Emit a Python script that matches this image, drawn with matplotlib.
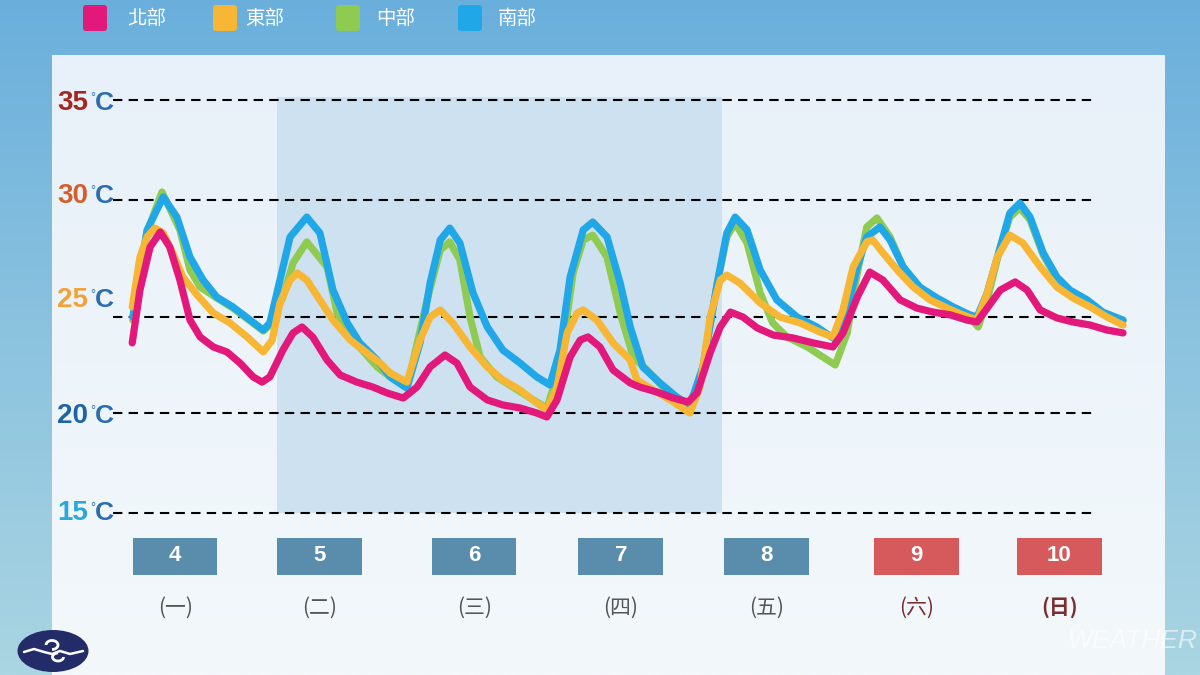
import numpy as np
import matplotlib
matplotlib.use('Agg')
import matplotlib.pyplot as plt
import matplotlib.transforms as mtransforms
from matplotlib.patches import Rectangle, FancyBboxPatch, Ellipse, Arc
from matplotlib.colors import LinearSegmentedColormap

plt.rcParams['font.family'] = ['Noto Sans CJK TC', 'DejaVu Sans']

# ---- data: temperature curves (x = hours, y = degC) ----
north_h = [8.2, 9.5, 11.2, 12.9, 14.5, 16.2, 17.9, 19.6, 21.8, 24.1, 26.3, 28.5, 30.0, 31.3,
           33.5, 35.2, 36.7, 38.5, 40.9, 43.1, 45.9, 48.6, 51.0, 53.7, 56.0, 58.2, 60.7, 62.7,
           64.9, 67.8, 70.4, 73.3, 76.1, 77.8, 79.5, 81.7, 83.4, 84.7, 86.7, 88.9, 91.8, 93.4,
           96.3, 99.0, 101.5, 103.0, 105.2, 106.9, 108.6, 110.7, 113.1, 115.8, 119.1, 122.5,
           125.8, 127.5, 129.9, 132.0, 134.2, 137.1, 139.9, 142.6, 145.5, 148.3, 150.0, 151.7,
           153.9, 156.4, 158.4, 160.6, 163.4, 166.1, 169.0, 171.8, 174.5]
north_t = [23.65, 26.15, 27.99, 28.63, 27.99, 26.58, 24.84, 23.96, 23.44, 23.18, 22.60, 21.88,
           21.61, 21.88, 23.28, 24.17, 24.48, 23.96, 22.76, 21.98, 21.61, 21.35, 21.04, 20.78,
           21.35, 22.40, 23.02, 22.60, 21.35, 20.68, 20.42, 20.26, 20.00, 19.80, 20.68, 22.92,
           23.80, 23.96, 23.44, 22.24, 21.56, 21.35, 21.09, 20.78, 20.57, 21.04, 23.13, 24.48,
           25.21, 25.00, 24.43, 24.06, 23.91, 23.65, 23.44, 24.17, 25.85, 26.92, 26.58, 25.73,
           25.38, 25.21, 25.09, 24.84, 24.74, 25.38, 26.15, 26.50, 26.15, 25.30, 24.95, 24.74,
           24.58, 24.32, 24.17]

east_h = [8.2, 9.5, 10.7, 12.0, 13.4, 15.0, 16.7, 19.1, 21.8, 24.6, 27.5, 30.2, 31.7, 33.0,
          34.7, 35.9, 37.5, 39.7, 41.9, 44.8, 47.6, 49.8, 51.5, 54.3, 56.5, 58.2, 59.9, 62.0,
          64.9, 67.8, 70.4, 73.3, 76.1, 77.8, 79.5, 81.2, 82.9, 83.9, 86.2, 88.9, 91.8, 92.9,
          95.6, 98.5, 101.8, 103.5, 105.2, 106.9, 108.0, 110.2, 113.6, 116.9, 120.3, 123.6,
          125.8, 127.5, 129.2, 131.5, 132.5, 134.2, 136.6, 139.3, 142.1, 145.0, 147.6, 150.0,
          151.7, 153.4, 155.5, 157.7, 160.6, 163.4, 166.1, 169.0, 171.8, 174.5]
east_t = [25.43, 27.56, 28.42, 28.80, 28.59, 27.74, 26.71, 25.94, 25.17, 24.69, 23.96, 23.18,
          23.80, 25.60, 26.58, 26.88, 26.58, 25.73, 24.84, 23.80, 23.13, 22.60, 22.08, 21.61,
          23.80, 25.00, 25.30, 24.69, 23.44, 22.40, 21.72, 21.20, 20.52, 20.16, 21.35, 24.17,
          25.17, 25.30, 24.84, 23.65, 22.76, 21.72, 21.20, 20.68, 20.00, 21.35, 25.00, 26.58,
          26.79, 26.45, 25.60, 25.00, 24.69, 24.22, 23.96, 25.30, 27.14, 28.21, 28.29, 27.74,
          27.01, 26.28, 25.73, 25.38, 25.09, 24.84, 26.03, 27.56, 28.50, 28.16, 27.14, 26.28,
          25.81, 25.43, 25.00, 24.58]

central_h = [8.3, 10.7, 13.2, 16.2, 17.9, 19.6, 22.4, 25.1, 28.0, 30.2, 31.3, 33.5, 35.2, 37.5,
             40.9, 42.6, 45.3, 49.3, 51.5, 54.3, 57.7, 59.9, 61.5, 63.2, 64.9, 66.6, 69.4, 72.1,
             75.0, 77.8, 80.0, 82.2, 83.9, 85.5, 87.9, 90.1, 92.3, 94.6, 97.3, 100.1, 101.8,
             104.0, 106.4, 108.0, 109.4, 111.4, 113.6, 115.7, 118.1, 121.5, 124.1, 126.2, 128.2,
             129.9, 131.5, 133.2, 135.4, 137.6, 140.4, 143.3, 146.0, 148.8, 150.2, 151.7, 153.9,
             155.5, 157.2, 158.9, 161.1, 163.4, 165.6, 168.5, 171.1, 174.5]
central_t = [24.84, 28.63, 30.40, 28.72, 27.01, 26.28, 25.81, 25.38, 24.79, 24.27, 24.58, 25.85,
             27.31, 28.21, 27.14, 25.17, 23.80, 22.40, 21.88, 21.30, 25.73, 27.86, 28.21, 27.44,
             25.00, 22.92, 21.88, 21.35, 20.78, 20.26, 22.40, 26.88, 28.29, 28.50, 27.56, 25.17,
             22.92, 22.24, 21.35, 20.68, 20.26, 22.40, 26.45, 28.42, 29.02, 28.16, 26.03, 24.69,
             23.96, 23.44, 22.92, 22.50, 24.17, 26.88, 28.85, 29.23, 28.42, 27.14, 26.15, 25.60,
             25.30, 24.95, 24.48, 25.73, 27.99, 29.27, 29.66, 29.15, 27.65, 26.62, 26.07, 25.64,
             25.17, 24.79]

south_h = [8.3, 10.7, 13.4, 15.7, 17.9, 20.1, 22.4, 25.1, 28.0, 30.2, 31.3, 33.0, 34.7, 37.5,
           39.7, 41.9, 44.3, 46.4, 49.3, 51.5, 54.3, 56.5, 58.2, 59.9, 61.5, 63.2, 65.4, 67.8,
           70.4, 73.3, 76.1, 78.3, 80.0, 81.7, 83.9, 85.5, 87.9, 90.1, 91.8, 93.9, 96.8, 99.6,
           101.8, 104.0, 106.4, 108.0, 109.4, 111.4, 113.6, 116.4, 119.8, 123.1, 125.8, 128.2,
           129.9, 131.5, 133.7, 135.4, 137.6, 140.4, 143.3, 146.0, 148.8, 150.0, 151.7, 153.9,
           155.5, 157.2, 158.9, 161.1, 163.4, 165.6, 168.5, 171.1, 174.5]
south_t = [25.00, 28.72, 30.15, 29.27, 27.56, 26.58, 25.85, 25.43, 24.84, 24.32, 24.69, 26.58,
           28.42, 29.27, 28.59, 26.15, 24.69, 23.65, 22.76, 21.88, 21.30, 23.65, 26.45, 28.29,
           28.80, 28.16, 26.03, 24.48, 23.28, 22.60, 21.88, 21.46, 23.28, 26.71, 28.72, 29.06,
           28.42, 26.45, 24.48, 22.40, 21.56, 20.83, 20.42, 22.40, 26.45, 28.59, 29.27, 28.72,
           27.01, 25.73, 25.00, 24.48, 23.91, 25.30, 27.14, 28.42, 28.85, 28.29, 27.14, 26.28,
           25.81, 25.43, 25.09, 25.00, 26.03, 27.99, 29.44, 29.87, 29.27, 27.74, 26.71, 26.15,
           25.73, 25.21, 24.84]

region_names = ['北部', '東部', '中部', '南部']
region_colors = ['#e2187b', '#f7b634', '#8fcb52', '#1fa7e7']

guide_temps = [35, 30, 25, 20, 15]
guide_num_colors = ['#a2281f', '#d3602b', '#f3a23a', '#1e63a6', '#2aa8dd']
guide_label_dy = [3, -4, -17, 3, 0]   # px: label sits off its line in the source

day_numbers = ['4', '5', '6', '7', '8', '9', '10']
weekday_names = ['(一)', '(二)', '(三)', '(四)', '(五)', '(六)', '(日)']
day_centers_h = [15.4, 39.6, 65.6, 90.2, 114.7, 139.8, 163.8]
is_weekend = [False, False, False, False, False, True, True]
band_h = (32.5, 107.2)

# y-axis: the guide lines in the source are not evenly spaced, so map degC -> pixel
scale_t = np.array([6.9, 15, 20, 25, 30, 35, 40])
scale_px = np.array([675, 513, 413, 317, 200, 100, 0])


def fwd(t):
    return -np.interp(t, scale_t, scale_px)


def inv(v):
    return np.interp(-np.asarray(v), scale_px[::-1], scale_t[::-1])


fig = plt.figure(figsize=(12, 6.75), dpi=100)

# ---- background (pixel coords) ----
bg = fig.add_axes([0, 0, 1, 1], zorder=0)
bg.set_xlim(0, 1200); bg.set_ylim(675, 0); bg.axis('off')
sky = LinearSegmentedColormap.from_list('sky', ['#6aafdc', '#8cc3df', '#aad5e2'])
bg.imshow(np.linspace(0, 1, 256)[:, None], cmap=sky, extent=(0, 1200, 675, 0), aspect='auto')
paper = LinearSegmentedColormap.from_list('paper', ['#e8f1f9', '#f3f8fb'])
bg.imshow(np.linspace(0, 1, 256)[:, None], cmap=paper, extent=(52, 1165, 675, 55), aspect='auto')
bg.set_xlim(0, 1200); bg.set_ylim(675, 0)

# legend
leg_sq_x = [83, 213, 336, 458]
leg_tx_x = [127, 245, 376, 498]
for c, name, sx, tx in zip(region_colors, region_names, leg_sq_x, leg_tx_x):
    bg.add_patch(FancyBboxPatch((sx, 5), 24, 26, boxstyle='round,pad=0,rounding_size=3',
                                fc=c, ec='none'))
    bg.text(tx, 18, name, color='white', fontsize=14, va='center', ha='left')

# logo
bg.add_patch(Ellipse((53, 651), 71, 42, fc='#232c69', ec='none'))
bg.plot([24, 34, 44, 52, 60, 70, 83], [652, 649, 652, 654, 651, 654, 651], color='white', lw=1.8,
        solid_capstyle='round')
bg.add_patch(Arc((52, 645), 12, 9, theta1=180, theta2=450, color='white', lw=2))
bg.add_patch(Arc((58, 657), 11, 8, theta1=0, theta2=270, color='white', lw=2))

# watermark
bg.text(1133, 641, 'WEATHER', color='white', alpha=0.6, fontsize=19, style='italic',
        family=['Liberation Sans', 'DejaVu Sans'], ha='center', va='center')

# ---- chart (data coords: hours, degC) ----
ax = fig.add_axes([0, 0, 1, 1], zorder=1)
ax.patch.set_alpha(0)
ax.set_yscale('function', functions=(fwd, inv))
ax.set_xlim(-13.99, 187.42)
ax.set_ylim(6.9, 40)
ax.axis('off')

ax.fill_between(band_h, 15, 35.15, color='#cde1f0', lw=0, zorder=1)

for t in guide_temps:
    ax.plot([5.0, 169.8], [t, t], color='black', lw=1.5, dashes=(4.5, 3), zorder=2)

num_font = ['Liberation Sans', 'DejaVu Sans']
for t, c, dy in zip(guide_temps, guide_num_colors, guide_label_dy):
    ax.annotate(str(t), xy=(1.0, t), xytext=(-1, -dy), textcoords='offset pixels',
                ha='right', va='center', fontsize=20, fontweight='bold', color=c, family=num_font)
    ax.annotate('°', xy=(1.0, t), xytext=(1, -dy + 5), textcoords='offset pixels',
                ha='left', va='center', fontsize=9, color='#2a6eb0', family=num_font)
    ax.annotate('C', xy=(1.0, t), xytext=(6, -dy), textcoords='offset pixels',
                ha='left', va='center', fontsize=19, fontweight='bold', color='#2a6eb0',
                family=num_font)

series = [(central_h, central_t, region_colors[2], 3),
          (south_h, south_t, region_colors[3], 4),
          (east_h, east_t, region_colors[1], 5),
          (north_h, north_t, region_colors[0], 6)]
for hx, ty, c, z in series:
    ax.plot(hx, ty, color=c, lw=5.2, solid_joinstyle='round', solid_capstyle='round', zorder=z)

# day boxes
tr = mtransforms.blended_transform_factory(ax.transData, ax.transAxes)
for d, wd, xc, we in zip(day_numbers, weekday_names, day_centers_h, is_weekend):
    ax.add_patch(Rectangle((xc - 7.1, 0.1481), 14.2, 0.0548, transform=tr,
                           fc='#d6595b' if we else '#5a8dac', ec='none', zorder=2))
    ax.text(xc, 0.1763, d, transform=tr, ha='center', va='center', color='white',
            fontsize=16, fontweight='bold', family=num_font, zorder=3)
    ax.text(xc, 0.100, wd, transform=tr, ha='center', va='center',
            color='#7a2f2f' if we else '#555555', fontsize=15,
            fontweight='bold' if wd == '(日)' else 'normal', zorder=3)

fig.savefig('out.png', dpi=100)
